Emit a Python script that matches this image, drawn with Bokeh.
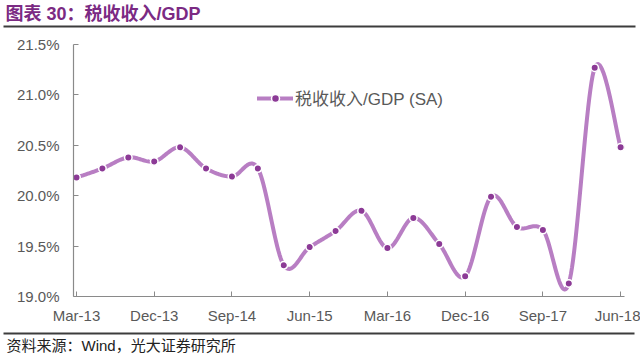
import numpy as np
from bokeh.plotting import figure
from bokeh.models import FixedTicker, PrintfTickFormatter, Legend, LegendItem, Range1d
from bokeh.layouts import column
from bokeh.embed import file_html
from bokeh.resources import INLINE
from bokeh.core.properties import value

# ---------------- data ----------------
quarters = ["Mar-13", "Jun-13", "Sep-13", "Dec-13", "Mar-14", "Jun-14", "Sep-14", "Dec-14",
            "Mar-15", "Jun-15", "Sep-15", "Dec-15", "Mar-16", "Jun-16", "Sep-16", "Dec-16",
            "Mar-17", "Jun-17", "Sep-17", "Dec-17", "Mar-18", "Jun-18"]
tax_gdp = [20.18, 20.27, 20.38, 20.34, 20.48, 20.27, 20.19, 20.27, 19.31, 19.49, 19.65,
           19.85, 19.48, 19.78, 19.52, 19.20, 19.99, 19.69, 19.66, 19.13, 21.27, 20.48]
y_ticks = [19.0, 19.5, 20.0, 20.5, 21.0, 21.5]
label_step = 3
series_name = "税收收入/GDP (SA)"
title_text = "图表 30：税收收入/GDP"
source_text = "资料来源：Wind，光大证券研究所"

# ---------------- styles ----------------
LINE_C = "#B87EC3"
MARK_C = "#8C3A96"
TITLE_C = "#7B2A83"
AXIS_C = "#8A8A8A"
TEXT_C = "#595959"
RULE_C = "#3C3C3C"
FONT = "Liberation Sans, Noto Sans CJK SC"

x_idx = np.arange(len(tax_gdp), dtype=float)
y_val = np.array(tax_gdp, dtype=float)


def smooth(xs, ys, n=24):
    """Cubic Bezier (Catmull-Rom style) smoothing through the data points."""
    m = len(xs)
    P = np.column_stack([xs, ys])
    out = []
    for i in range(m - 1):
        p0 = P[max(i - 1, 0)]
        p1 = P[i]
        p2 = P[i + 1]
        p3 = P[min(i + 2, m - 1)]
        c1 = p1 + (p2 - p0) / 6.0
        c2 = p2 - (p3 - p1) / 6.0
        t = np.linspace(0, 1, n, endpoint=(i == m - 2))[:, None]
        seg = ((1 - t) ** 3) * p1 + 3 * ((1 - t) ** 2) * t * c1 + 3 * (1 - t) * t ** 2 * c2 + t ** 3 * p2
        out.append(seg)
    out = np.vstack(out)
    return out[:, 0], out[:, 1]


sx, sy = smooth(x_idx, y_val)


def strip(height):
    f = figure(width=640, height=height, x_range=Range1d(0, 640), y_range=Range1d(height, 0),
               output_backend="svg", toolbar_location=None, x_axis_location=None,
               y_axis_location=None, min_border=0, title=None, frame_align=False)
    f.grid.visible = False
    f.outline_line_color = None
    return f


# ---------------- title strip (canvas y 0..34) ----------------
top = strip(34)
top.text(x=[5], y=[13], text=[title_text], text_baseline="middle", text_align="left",
         text_font=value(FONT), text_font_size="18px", text_font_style="bold", text_color=TITLE_C)
top.segment(x0=[3], y0=[26], x1=[635], y1=[26], line_width=2, line_color=RULE_C)

# ---------------- main chart (canvas y 34..327, frame x 73..624, y 44..296) ----------------
p = figure(width=640, height=293, x_range=Range1d(-0.116, 21.15), y_range=Range1d(19.0, 21.5),
           output_backend="svg", toolbar_location=None, title=None, frame_align=False,
           min_border_left=73, min_border_right=16, min_border_top=10, min_border_bottom=31)
p.grid.visible = False
p.outline_line_color = None

ln = p.line(sx, sy, line_width=4, line_color=LINE_C, line_join="round", line_cap="round")
sc = p.scatter(x_idx, y_val, size=7.5, fill_color=MARK_C, line_color="white", line_width=1.5)

p.xaxis.ticker = FixedTicker(ticks=list(range(0, len(quarters), label_step)))
p.xaxis.major_label_overrides = {i: quarters[i] for i in range(0, len(quarters), label_step)}
p.yaxis.ticker = FixedTicker(ticks=y_ticks)
p.yaxis.formatter = PrintfTickFormatter(format="%.1f%%")
for ax in (p.xaxis[0], p.yaxis[0]):
    ax.axis_line_color = AXIS_C
    ax.axis_line_width = 1.2
    ax.major_tick_line_color = AXIS_C
    ax.major_tick_in = 5
    ax.major_tick_out = 0
    ax.minor_tick_line_color = None
    ax.major_label_text_color = TEXT_C
    ax.major_label_text_font = FONT
    ax.major_label_text_font_size = "15px"
p.xaxis.major_label_standoff = 10
p.yaxis.major_label_standoff = 14

legend = Legend(items=[LegendItem(label=series_name, renderers=[ln, sc])],
                location=(184, 186), padding=0, margin=0, spacing=0,
                glyph_width=36, glyph_height=20, label_height=20, label_standoff=2,
                border_line_color=None, background_fill_alpha=0,
                label_text_font=FONT, label_text_font_size="17px", label_text_color=TEXT_C)
p.add_layout(legend)

# ---------------- source strip (canvas y 327..357) ----------------
bot = strip(30)
bot.segment(x0=[3], y0=[6], x1=[634], y1=[6], line_width=2, line_color=RULE_C)
bot.text(x=[6], y=[18], text=[source_text], text_baseline="middle", text_align="left",
         text_font=value(FONT), text_font_size="15px", text_color="#222222")

layout = column(top, p, bot, spacing=0)
open("out.html", "w").write(file_html(layout, INLINE))
